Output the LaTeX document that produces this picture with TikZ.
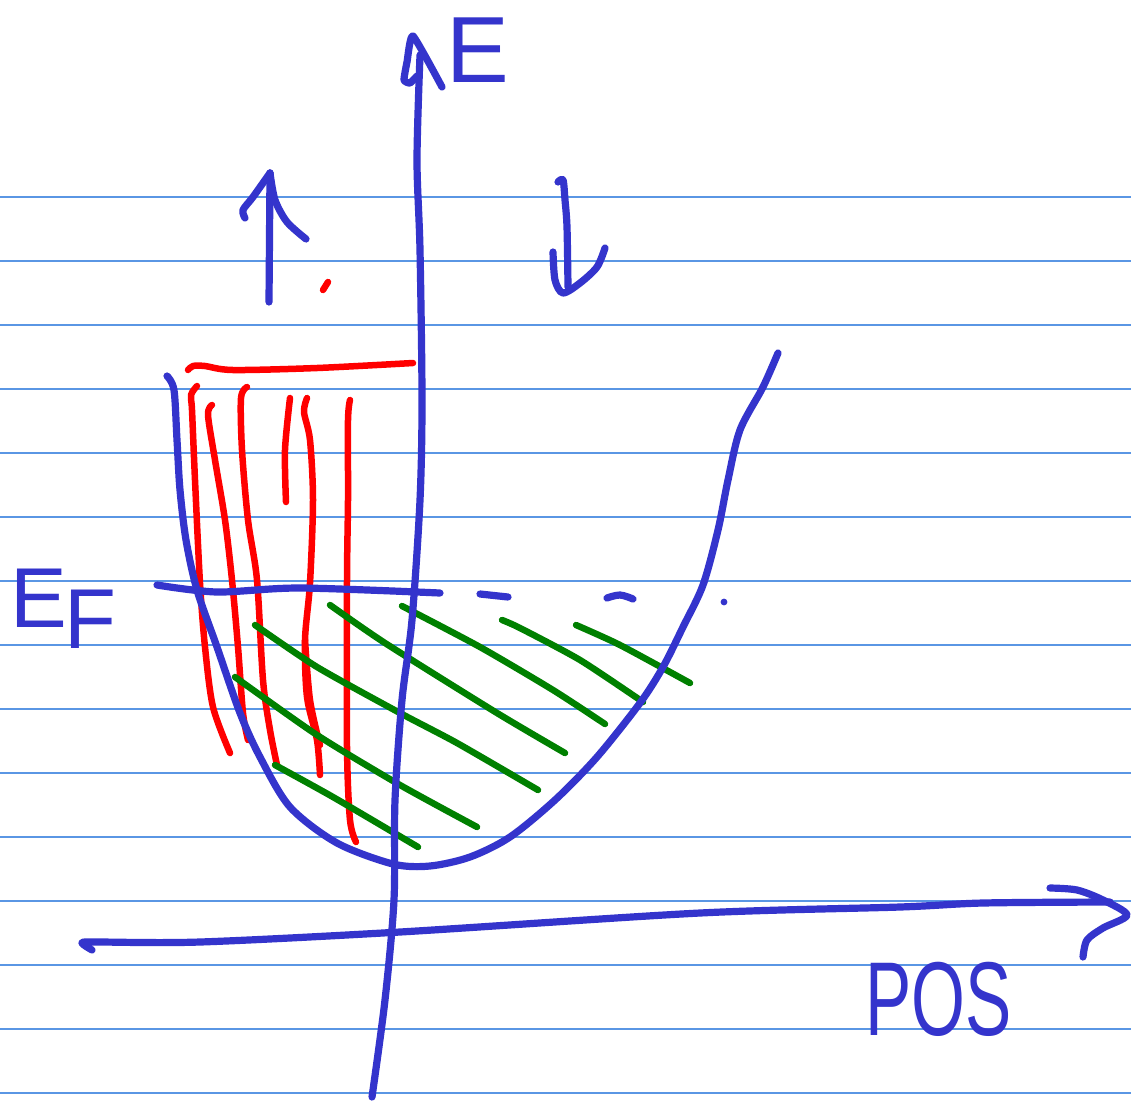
\documentclass[tikz,border=0pt]{standalone}
\usepackage{fontspec}
\setmainfont{Liberation Sans}
\definecolor{ruleblue}{RGB}{90,150,228}
\definecolor{inkblue}{RGB}{52,52,204}
\definecolor{inkred}{RGB}{255,0,0}
\definecolor{inkgreen}{RGB}{0,128,0}
\begin{document}
\begin{tikzpicture}[x=1pt,y=-1pt,
  rule/.style={draw=ruleblue,line width=1.3pt},
  ink/.style={draw=inkblue,line width=7.2pt,line cap=round,line join=round},
  redink/.style={draw=inkred,line width=6.5pt,line cap=round,line join=round},
  greenink/.style={draw=inkgreen,line width=6.5pt,line cap=round,line join=round},
  lbl/.style={text=inkblue,inner sep=0pt}
]
\useasboundingbox (0,0) rectangle (1131,1103);
\fill[white] (0,0) rectangle (1131,1103);
\foreach \yy in {197,261,...,1093} \draw[rule] (0,\yy) -- (1131,\yy);

% red strokes
\draw[redink] plot[smooth,tension=0.5] coordinates {(188,370) (193,366) (205,366) (233,370) (317,368) (413,363)};
\draw[redink] plot[smooth,tension=0.5] coordinates {(197,386) (191,395) (192,410) (195,480) (200,583) (205,647) (213,707) (230,753)};
\draw[redink] plot[smooth,tension=0.5] coordinates {(212,405) (208,415) (215,460) (225,520) (232,580) (238,647) (243,713) (248,740)};
\draw[redink] plot[smooth,tension=0.5] coordinates {(247,387) (241,398) (242,450) (248,520) (257,580) (263,680) (270,730) (277,765)};
\draw[redink] plot[smooth,tension=0.5] coordinates {(290,398) (285,450) (286,502)};
\draw[redink] plot[smooth,tension=0.5] coordinates {(307,398) (304,412) (310,440) (313,500) (310,583) (305,640) (307,697) (317,740) (320,775)};
\draw[redink] plot[smooth,tension=0.5] coordinates {(305,640) (310,700) (320,745)};
\draw[redink] plot[smooth,tension=0.5] coordinates {(350,400) (348,420) (348,500) (347,580) (347,747) (350,820) (356,842)};
\draw[redink] (323,290) -- (328,282);

% green hatching
\draw[greenink] plot[smooth,tension=0.4] coordinates {(255,625) (317,667) (400,713) (457,743) (538,790)};
\draw[greenink] plot[smooth,tension=0.4] coordinates {(330,605) (385,643) (497,713) (565,753)};
\draw[greenink] plot[smooth,tension=0.4] coordinates {(402,606) (480,647) (553,690) (605,724)};
\draw[greenink] plot[smooth,tension=0.4] coordinates {(502,620) (520,628) (580,660) (643,702)};
\draw[greenink] plot[smooth,tension=0.4] coordinates {(576,625) (620,645) (690,683)};
\draw[greenink] plot[smooth,tension=0.4] coordinates {(235,677) (317,735) (400,785) (477,827)};
\draw[greenink] plot[smooth,tension=0.4] coordinates {(275,765) (333,797) (418,847)};

% parabola
\draw[ink] plot[smooth,tension=0.5] coordinates {(167,376) (174,390) (177,440) (180,490) (186,540) (197,590) (217,647) (240,713) (260,757) (290,807) (337,843) (393,864) (430,866) (470,857) (510,837) (555,800) (597,757) (640,703) (663,667) (683,627) (703,585) (718,530) (728,480) (740,430) (763,387) (778,353)};

% Fermi level
\draw[ink] plot[smooth,tension=0.5] coordinates {(157,585) (217,592) (300,588) (440,593)};
\draw[ink] (480,594) -- (508,597);
\draw[ink] plot[smooth,tension=0.6] coordinates {(607,598) (620,595) (633,599)};
\fill[inkblue] (724,602) circle (3.4pt);

% energy axis
\draw[ink] plot[smooth,tension=0.5] coordinates {(372,1097) (385,1000) (394,900) (395,800) (402,700) (412,620) (420,500) (422,400) (420,250) (417,160) (420,55)};
\draw[ink] plot[smooth,tension=0.3] coordinates {(442,87) (413,36) (407,62) (404,80) (410,83) (417,76)};

% position axis
\draw[ink] plot[smooth,tension=0.5] coordinates {(92,950) (82,943) (95,942) (200,942) (400,932) (700,913) (900,907) (983,903) (1110,902)};
\draw[ink] plot[smooth,tension=0.5] coordinates {(1050,888) (1077,890) (1103,900) (1127,915) (1103,928) (1087,940) (1083,957)};

% arrows
\draw[ink] (269,302) -- (270,173);
\draw[ink] plot[smooth,tension=0.5] coordinates {(245,218) (243,210) (253,197) (270,173)};
\draw[ink] plot[smooth,tension=0.5] coordinates {(270,173) (275,200) (287,222) (306,239)};
\draw[ink] plot[smooth,tension=0.5] coordinates {(558,182) (563,180) (565,200) (567,227) (568,287)};
\draw[ink] plot[smooth,tension=0.5] coordinates {(553,252) (555,280) (563,293) (580,283) (597,267) (605,248)};

% labels
\node[lbl,font=\fontsize{94}{94}\selectfont,anchor=base west] (elabel) at (446,82) {E};
\node[lbl,font=\fontsize{85}{85}\selectfont,anchor=base west] (eflabel) at (10,627) {E\kern-2pt\raisebox{-0.25em}{F}};
\node[lbl,font=\fontsize{105}{105}\selectfont,anchor=base west] (poslabel) at (865,1035) {\scalebox{0.66}[1]{POS}};
\end{tikzpicture}
\end{document}
